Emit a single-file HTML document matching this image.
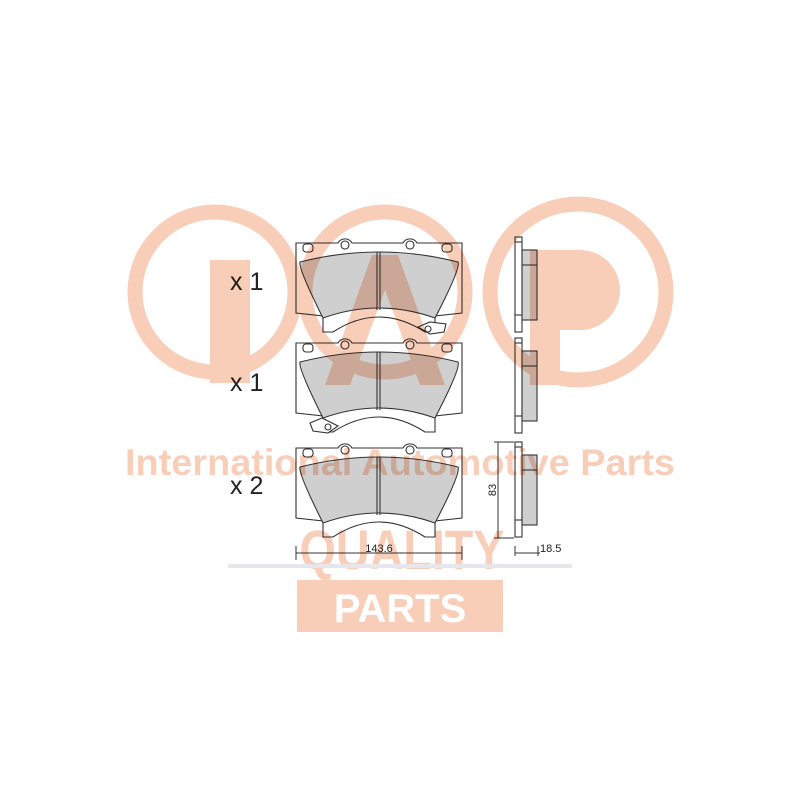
<!DOCTYPE html>
<html><head><meta charset="utf-8"><style>
html,body{margin:0;padding:0;background:#fff;width:800px;height:800px;overflow:hidden}
svg{display:block}
</style></head><body>
<svg width="800" height="800" viewBox="0 0 800 800" xmlns="http://www.w3.org/2000/svg">
<defs>
<g id="pad" stroke="#333" stroke-width="1.1" fill="#fff">
<path d="M0,3 L42,3 A8,8 0 0 1 56,3 L107,3 A8,8 0 0 1 121,3 L166,3 L166,73 L139,76 L139,92 L129,92 Q83,62 37,92 L27,92 L27,76 L0,73 Z"/>
<rect x="7" y="4" width="10" height="8" rx="3"/>
<rect x="146" y="4" width="10" height="8" rx="3"/>
<circle cx="49" cy="5" r="4"/>
<circle cx="114" cy="5" r="4"/>
<path d="M4,22 Q83,2 162,22 Q165,28 139,78 Q83,58 27,78 Q2,28 4,22 Z" fill="#cfcfcf"/>
<line x1="81" y1="12" x2="81" y2="70"/>
<line x1="84" y1="12" x2="84" y2="70"/>
</g>
<g id="side" stroke="#333" stroke-width="1.1" fill="#fff">
<rect x="515" y="0" width="7" height="95"/>
<rect x="522" y="13" width="15" height="70" fill="#cfcfcf"/>
<line x1="522" y1="28" x2="537" y2="28"/>
<line x1="515" y1="5" x2="522" y2="5"/>
<line x1="515" y1="78" x2="522" y2="78"/>
</g>
</defs>
<use href="#pad" x="296" y="240"/>
<use href="#pad" x="296" y="340"/>
<use href="#pad" x="296" y="445"/>
<g stroke="#333" stroke-width="1.1" fill="#fff">
<path d="M418,327 L430,322 L446,324 L444,332 L430,334 Z"/>
<circle cx="428" cy="329" r="3"/>
<path d="M310,423 L322,418 L338,426 L328,433 L313,431 Z"/>
<circle cx="328" cy="427" r="3"/>
</g>
<use href="#side" x="0" y="237"/>
<use href="#side" x="0" y="338"/>
<use href="#side" x="0" y="442"/>
<g stroke="#333" stroke-width="1" fill="none">
<line x1="498" y1="442" x2="498" y2="538"/>
<line x1="494" y1="442" x2="514" y2="442"/>
<line x1="494" y1="538" x2="514" y2="538"/>
<line x1="296" y1="553" x2="462" y2="553"/>
<line x1="296" y1="546" x2="296" y2="560"/>
<line x1="462" y1="546" x2="462" y2="560"/>
<line x1="515" y1="546" x2="515" y2="556"/>
<line x1="515" y1="553" x2="540" y2="553"/>
<line x1="538" y1="546" x2="538" y2="556"/>
</g>
<g font-family="Liberation Sans, sans-serif" fill="#222">
<text x="230" y="290" font-size="25">x 1</text>
<text x="230" y="391" font-size="25">x 1</text>
<text x="230" y="494" font-size="25">x 2</text>
<text x="379" y="552" font-size="11" text-anchor="middle">143.6</text>
<text x="540" y="552" font-size="11">18.5</text>
<text transform="translate(496,490) rotate(-90)" font-size="11" text-anchor="middle">83</text>
</g>
<g style="mix-blend-mode:multiply" opacity="0.9">
<g fill="none" stroke="#f9c9b2" stroke-width="15">
<circle cx="215" cy="292" r="80"/>
<circle cx="385" cy="292" r="80"/>
<circle cx="578" cy="292" r="88"/>
</g>
<rect x="210" y="260" width="40" height="123" fill="#f9c9b2"/>
<path d="M325,385 L372,255 L398,255 L445,385 L420,385 L385,290 L350,385 Z" fill="#f9c9b2"/>
<path d="M530,250 L580,250 A40,40 0 0 1 580,330 L560,330 L560,385 L530,385 Z" fill="#f9c9b2"/>
<text x="400" y="475" font-family="Liberation Sans, sans-serif" font-weight="bold" font-size="37" fill="#f9c9b2" text-anchor="middle" textLength="550" lengthAdjust="spacingAndGlyphs">International Automotive Parts</text>
<text x="402" y="569" font-family="Liberation Sans, sans-serif" font-weight="bold" font-size="56" fill="#f9c9b2" text-anchor="middle" textLength="205" lengthAdjust="spacingAndGlyphs">QUALITY</text>
<rect x="228" y="564" width="344" height="4" fill="#e4e4ea"/>
<rect x="297" y="580" width="206" height="52" fill="#f9c9b2"/>
</g>
<text x="400" y="622" font-family="Liberation Sans, sans-serif" font-weight="bold" font-size="40" fill="#fff" text-anchor="middle">PARTS</text>
</svg>
</body></html>
